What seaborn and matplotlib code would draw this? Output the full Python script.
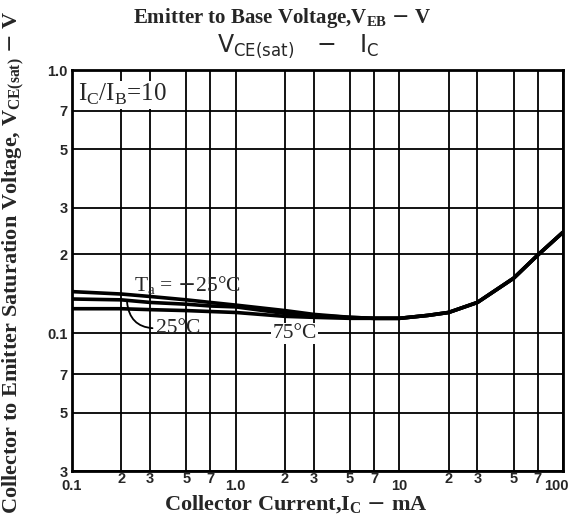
import seaborn as sns
import pandas as pd
import matplotlib.pyplot as plt
from matplotlib.ticker import NullFormatter, NullLocator
from matplotlib.transforms import ScaledTranslation

# collector current (mA) and saturation voltage (V)
ic_low = [0.1, 0.2, 0.3, 0.5, 0.7, 1.0, 2.0, 3.0, 5.0, 7.0]
v_m25 = [0.144, 0.141, 0.138, 0.134, 0.131, 0.128, 0.122, 0.118, 0.115, 0.114]
v_25 = [0.135, 0.134, 0.131, 0.129, 0.127, 0.126, 0.119, 0.117, 0.115, 0.114]
v_75 = [0.124, 0.124, 0.123, 0.122, 0.121, 0.120, 0.116, 0.115, 0.114, 0.114]
ic_high = [10, 15, 20, 30, 50, 70, 100]
v_high = [0.114, 0.117, 0.120, 0.131, 0.162, 0.198, 0.242]

x_major = [0.1, 1.0, 10, 100]
x_major_labels = ['0.1', '1.0', '10', '100']
x_minor = [0.2, 0.3, 0.5, 0.7, 2, 3, 5, 7, 20, 30, 50, 70]
x_minor_labels = ['2', '3', '5', '7'] * 3
y_ticks = [0.03, 0.05, 0.07, 0.1, 0.2, 0.3, 0.5, 0.7, 1.0]
y_labels = ['3', '5', '7', '0.1', '2', '3', '5', '7', '1.0']

rows = []
for temp, vals in [('-25', v_m25), ('25', v_25), ('75', v_75)]:
    for x, y in zip(ic_low + ic_high, vals + v_high):
        rows.append({'ic': x, 'v': y, 'temp': temp})
df = pd.DataFrame(rows)

sns.set_style("white")
plt.rcParams['font.family'] = ['DejaVu Sans']
serif = ['Liberation Serif', 'DejaVu Serif']
sansb = ['Liberation Sans', 'DejaVu Sans']

fig = plt.figure(figsize=(5.73, 5.22), dpi=100)
ax = fig.add_axes([0.1257, 0.0977, 0.8568, 0.7682])

sns.lineplot(data=df, x='ic', y='v', hue='temp', palette=['black'] * 3,
             linewidth=2.6, legend=False, ax=ax, zorder=3)

ax.set_xscale('log')
ax.set_yscale('log')
ax.set_xlim(0.1, 100)
ax.set_ylim(0.03, 1.0)

ax.set_xticks(x_major)
ax.set_xticklabels(x_major_labels)
ax.set_xticks(x_minor, minor=True)
ax.set_xticklabels(x_minor_labels, minor=True)
ax.set_yticks(y_ticks)
ax.set_yticklabels(y_labels)
ax.yaxis.set_minor_locator(NullLocator())
ax.yaxis.set_minor_formatter(NullFormatter())
ax.tick_params(axis='x', which='major', length=0, pad=6, labelsize=10.5)
ax.tick_params(axis='x', which='minor', length=0, pad=1, labelsize=10.5)
ax.tick_params(axis='y', which='both', length=0, pad=3, labelsize=10.5)
for lab in ax.get_xticklabels() + ax.get_xticklabels(minor=True) + ax.get_yticklabels():
    lab.set_fontweight('bold')
    lab.set_family(sansb)
last = ax.get_xticklabels()[-1]
last.set_transform(last.get_transform() + ScaledTranslation(-5 / 72, 0, fig.dpi_scale_trans))

ax.grid(True, which='both', color='black', linewidth=1.3)
for s in ax.spines.values():
    s.set_color('black')
    s.set_linewidth(2)
ax.set_xlabel('')
ax.set_ylabel('')

ax.text(0.012, 0.97, r'I$_\mathregular{C}$/I$_\mathregular{B}$=10', transform=ax.transAxes,
        family=serif, fontsize=18, ha='left', va='top',
        bbox=dict(facecolor='white', edgecolor='none', pad=1), zorder=4)

ax.text(0.51, 0.152, r'T$_\mathregular{a}$ = $-$25°C', family=serif, fontsize=15.5,
        ha='center', va='center', zorder=4)
ax.annotate('25°C', xy=(0.217, 0.131), xytext=(0.444, 0.1045), family=serif,
            fontsize=15.5, ha='center', va='center', zorder=4,
            arrowprops=dict(arrowstyle='-', color='black', lw=1.3,
                            shrinkA=0, shrinkB=0, relpos=(0.0, 0.5),
                            connectionstyle='arc3,rad=-0.45'))
ax.text(2.3, 0.1, '75°C', family=serif, fontsize=15.5, ha='center', va='center',
        bbox=dict(facecolor='white', edgecolor='none', pad=1), zorder=4)

fig.text(0.492, 0.965, r'Emitter to Base Voltage,V$_\mathregular{EB}$ $-$ V', family=serif,
         fontsize=15, fontweight='bold', ha='center', va='center')
fig.text(0.52, 0.912, r'V$_\mathregular{CE(sat)}$   $-$   I$_\mathregular{C}$',
         fontsize=17, ha='center', va='center')
fig.text(0.517, 0.032, r'Collector Current,I$_\mathregular{C}$ $-$ mA', family=serif,
         fontsize=16, fontweight='bold', ha='center', va='center')
fig.text(0.024, 0.497, r'Collector to Emitter Saturation Voltage, V$_\mathregular{CE(sat)}$ $-$ V',
         family=serif, fontsize=16, fontweight='bold', rotation=90,
         ha='center', va='center')

fig.savefig('out.png', dpi=100, facecolor='white')
